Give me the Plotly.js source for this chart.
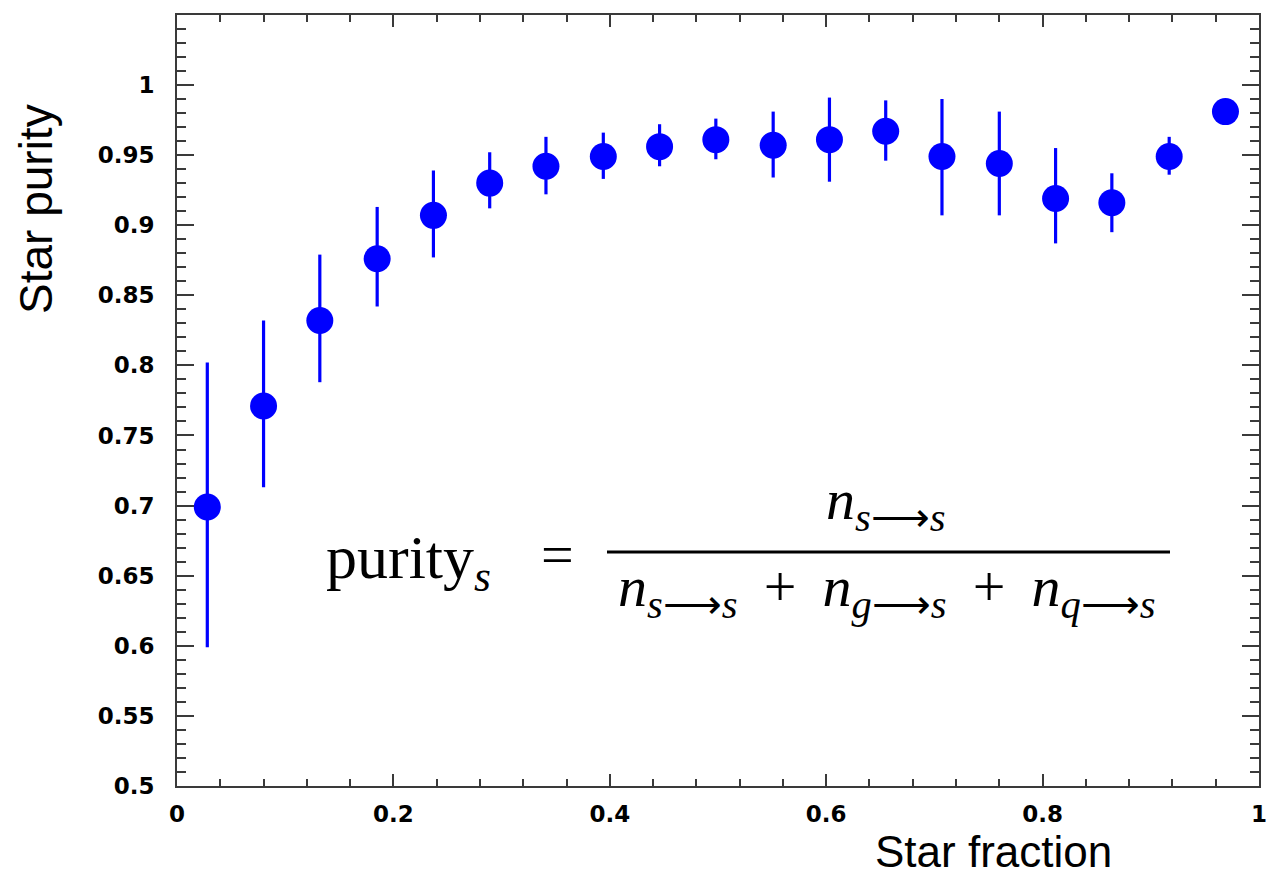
<!DOCTYPE html>
<html>
<head>
<meta charset="utf-8">
<script src="https://cdn.plot.ly/plotly-3.0.1.min.js"></script>
<style>html,body{margin:0;padding:0;background:#fff;}#chart{width:1266px;height:875px;}</style>
</head>
<body>
<div id="chart"></div>
<script>
// Data
const starFraction = [0.028, 0.080, 0.132, 0.185, 0.237, 0.289, 0.341, 0.394, 0.446, 0.498,
                      0.551, 0.603, 0.655, 0.707, 0.760, 0.812, 0.864, 0.917, 0.969];
const starPurity   = [0.699, 0.771, 0.832, 0.876, 0.907, 0.930, 0.942, 0.949, 0.956, 0.961,
                      0.957, 0.961, 0.967, 0.949, 0.944, 0.919, 0.916, 0.949, 0.981];
const errPlus      = [0.103, 0.061, 0.047, 0.037, 0.032, 0.022, 0.021, 0.017, 0.016, 0.015,
                      0.024, 0.030, 0.022, 0.041, 0.037, 0.036, 0.021, 0.014, 0.0];
const errMinus     = [0.100, 0.058, 0.044, 0.034, 0.030, 0.018, 0.020, 0.016, 0.014, 0.014,
                      0.023, 0.030, 0.021, 0.042, 0.037, 0.032, 0.021, 0.013, 0.0];
const xTitle = "Star fraction";
const yTitle = "Star purity";

// Layout geometry (pixels)
const W = 1266, H = 875;
const M = {l: 177, r: 7, t: 15, b: 89};
const PW = W - M.l - M.r, PH = H - M.t - M.b;
const px = x => (x - M.l) / PW;
const pyy = y => (H - M.b - y) / PH;

const axisColor = "#3a3a3a";
const tickFont = {family: "DejaVu Sans", size: 23, color: "#000", weight: "bold"};
const mathFont = {family: "Liberation Serif", size: 58, color: "#000"};
const sub = v => "<sub><i>" + v + "</i>\u27F6<i>s</i></sub>";
const nTerm = v => "<i>n</i>" + sub(v);
const plusSep = " \u2009+\u2009 ";

const trace = {
  type: "scatter",
  mode: "markers",
  x: starFraction,
  y: starPurity,
  marker: {color: "#0000ff", size: 27, line: {width: 0}},
  error_y: {type: "data", symmetric: false, array: errPlus, arrayminus: errMinus,
            color: "#0000ff", thickness: 3.2, width: 0},
  hoverinfo: "x+y",
  showlegend: false
};

const layout = {
  width: W, height: H,
  margin: M,
  paper_bgcolor: "#fff",
  plot_bgcolor: "#fff",
  showlegend: false,
  xaxis: {
    range: [0, 1],
    showgrid: false, zeroline: false,
    showline: true, linecolor: axisColor, linewidth: 2, mirror: "ticks",
    ticks: "inside", ticklen: 12, tickwidth: 2, tickcolor: axisColor,
    tickmode: "linear", tick0: 0, dtick: 0.2,
    minor: {ticks: "inside", ticklen: 7, tickwidth: 2, tickcolor: axisColor, dtick: 0.04, showgrid: false},
    tickfont: tickFont, ticklabelstandoff: 6, ticklabeloverflow: "allow",
    tickformat: "~g"
  },
  yaxis: {
    range: [0.5, 1.0499],
    showgrid: false, zeroline: false,
    showline: true, linecolor: axisColor, linewidth: 2, mirror: "ticks",
    ticks: "inside", ticklen: 17, tickwidth: 2, tickcolor: axisColor,
    tickmode: "linear", tick0: 0.5, dtick: 0.05,
    minor: {ticks: "inside", ticklen: 9, tickwidth: 2, tickcolor: axisColor, dtick: 0.01, showgrid: false},
    tickfont: tickFont, ticklabelstandoff: 16, ticklabeloverflow: "allow",
    tickformat: "~g"
  },
  annotations: [
    {text: xTitle, xref: "paper", yref: "paper", x: px(1114), y: pyy(825),
     xanchor: "right", yanchor: "top", showarrow: false,
     font: {family: "Liberation Sans", size: 44, color: "#000"}},
    {text: yTitle, xref: "paper", yref: "paper", x: px(64), y: pyy(102),
     xanchor: "right", yanchor: "top", textangle: -90, showarrow: false,
     font: {family: "Liberation Sans", size: 46, color: "#000"}},
    {text: "purity<sub><i>s</i></sub>", xref: "paper", yref: "paper",
     x: px(324), y: pyy(561), xanchor: "left", yanchor: "middle", showarrow: false,
     font: {family: "Liberation Serif", size: 62, color: "#000"}},
    {text: "=", xref: "paper", yref: "paper",
     x: px(557), y: pyy(554), xanchor: "center", yanchor: "middle", showarrow: false,
     font: mathFont},
    {text: nTerm("s"), xref: "paper", yref: "paper",
     x: px(886), y: pyy(503), xanchor: "center", yanchor: "middle", showarrow: false,
     font: mathFont},
    {text: nTerm("s") + plusSep + nTerm("g") + plusSep + nTerm("q"),
     xref: "paper", yref: "paper",
     x: px(887), y: pyy(590), xanchor: "center", yanchor: "middle", showarrow: false,
     font: mathFont}
  ],
  shapes: [
    {type: "line", xref: "paper", yref: "paper", x0: px(607), x1: px(1170), y0: pyy(552), y1: pyy(552),
     line: {color: "#000", width: 3}}
  ]
};

Plotly.newPlot("chart", [trace], layout, {staticPlot: true, displayModeBar: false});
</script>
</body>
</html>
